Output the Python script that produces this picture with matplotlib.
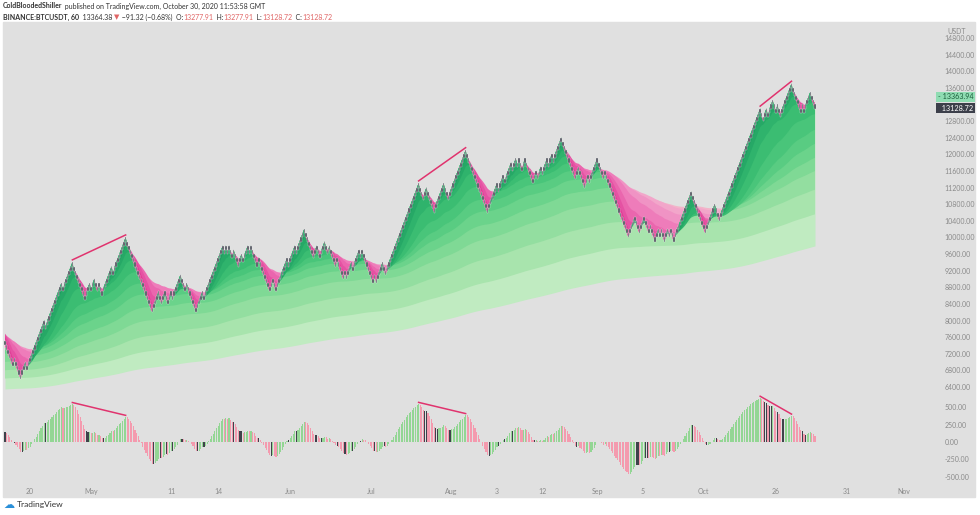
import numpy as np
import matplotlib.pyplot as plt
from matplotlib.patches import Rectangle
from matplotlib.transforms import blended_transform_factory

W, H = 980, 515
box = 100

# renko turning points (brick closes)
pivots = [7400, 6900, 7100, 6600, 7000, 6800, 8000, 7800, 8900, 8700, 9400,
          8500, 8900, 8700, 9000, 8700, 8900, 8600, 9300, 9100, 10000,
          8200, 8700, 8400, 8700, 8400, 8700, 8500, 9100, 8700, 8900, 8200,
          8700, 8500, 9800, 9600, 9800, 9600, 9800, 9500, 9700, 9300,
          9600, 9400, 9800, 9600, 9800, 9300, 9500, 8700, 9000, 8700,
          9500, 9300, 9800, 9600, 10200, 9500, 9800, 9500, 9900,
          9600, 9800, 9300, 9500, 9000, 9200, 9000, 9400, 9200, 9700, 9500, 9700,
          8900, 9100, 8900, 9400, 9100,
          11300, 10900, 11200, 10600, 11300, 10900, 12100,
          10600, 11300, 11100, 11500, 11300, 11800, 11600, 11900, 11700, 11900, 11600, 11900,
          11300, 11600, 11400, 11700, 11500, 11900, 11700, 12000, 11800, 12400,
          11400, 11700, 11200, 11500, 11300, 11900, 11400, 11600, 10000,
          10500, 10100, 10500, 10100, 10300, 9900, 10200, 10000, 10200, 9900,
          10200, 10000, 10200, 9900, 11100, 10100, 10800, 10400,
          13100, 12800, 13100, 12900, 13300, 13000, 13200, 12900, 13700,
          13000, 13200, 13000, 13500, 13100]

ribbon_len = [5, 10, 20, 40, 65, 95, 140, 200, 300, 450, 680]
ribbon_start = [7750, 7750, 7700, 7650, 7550, 7400, 7200, 7000, 6800, 6600, 6350]
macd_len = [10, 26]
macd_start = [7350, 7200]

xtick_idx = [16, 55, 106, 136, 182, 234, 285, 314, 343, 378, 407, 446, 492, 537, 574]
xtick_lab = ['20', 'May', '11', '14', 'Jun', 'Jul', 'Aug', '3', '12', 'Sep', '5', 'Oct', '26', '31', 'Nov']

# 13200 sits under the price tags, so it is not labelled
price_ticks = [p for p in range(6400, 14801, 400) if p != 13200]
osc_ticks = [-500, -250, 0, 250, 500]

# divergences: pairs of pivot numbers (highs)
div_pivots = [(10, 20), (78, 84), (134, 142)]

last_price = 13128.72
mark_price = 13363.94


def renko(pts, size):
    closes, dirs, piv_at = [pts[0]], [-1], [0]
    for p in pts[1:]:
        step = 1 if p > closes[-1] else -1
        c = closes[-1]
        if step != dirs[-1]:
            c += step * size
        while (p - c) * step > 0:
            c += step * size
            closes.append(c)
            dirs.append(step)
        piv_at.append(len(closes) - 1)
    return np.array(closes, float), np.array(dirs), piv_at


def ema(x, n, seed):
    a = 2 / (n + 1)
    out = np.empty(len(x))
    v = seed
    for i, xv in enumerate(x):
        v = v + a * (xv - v)
        out[i] = v
    return out


close, dirs, piv_at = renko(pivots, box)
opens = close - dirs * box
n = len(close)
idx = np.arange(n)
sp = 810 / (n - 1)

bg = '#e0e0e0'
fig = plt.figure(figsize=(W / 100, H / 100), dpi=100)
fig.patches.append(Rectangle((3 / W, 1 - 497 / H), 972 / W, 475 / H,
                             transform=fig.transFigure, color=bg, zorder=-5))

ax = fig.add_axes([3 / W, 1 - 392 / H, 932 / W, 370 / H])
ax2 = fig.add_axes([3 / W, 1 - 484 / H, 932 / W, 92 / H], sharex=ax)
for a in (ax, ax2):
    a.set_facecolor('none')
    for s in a.spines.values():
        s.set_visible(False)
    a.yaxis.tick_right()
    a.tick_params(length=0, labelsize=5.0, labelcolor='#8a8a8a', pad=7)

x0 = -2 / sp
ax.set_xlim(x0, x0 + 932 / sp)
ax.set_ylim(14800 - 354 / 0.04155, 14800 + 16 / 0.04155)

# ribbon
greens = ['#1f9c60', '#26a866', '#2fb36c', '#3bbd72', '#49c57a', '#59cc82', '#6bd38b',
          '#7fd995', '#93dea0', '#a8e4ad', '#c0ebc1']
pinks = ['#e03e96', '#e552a3', '#ea66ae', '#ee7cba', '#f093c4', '#f2a6ca', '#f2b4c9',
         '#f1bcc4', '#f0c2c0', '#efc6bf', '#eec9c0']
emas = [ema(close, L, s0) for L, s0 in zip(ribbon_len, ribbon_start)]
for k in range(len(emas) - 1, -1, -1):
    e = emas[k]
    ax.fill_between(idx, close, e, where=close >= e, color=greens[k], lw=0, interpolate=True, zorder=1)
    ax.fill_between(idx, close, e, where=close < e, color=pinks[k], lw=0, interpolate=True, zorder=1)

# bricks
ax.bar(idx, box, bottom=np.minimum(opens, close), width=0.95, color='#4a4e59',
       edgecolor='#e8e8e8', linewidth=0.25, zorder=3)

# oscillator
osc = ema(close, macd_len[0], macd_start[0]) - ema(close, macd_len[1], macd_start[1])
d_osc = np.diff(osc, prepend=osc[0])
cols = np.where((d_osc > 0) & (dirs > 0), '#93d694',
                np.where((d_osc < 0) & (dirs < 0), '#f49aae', '#3f424b'))
ax2.bar(idx, osc, width=0.7, color=cols, zorder=3)
ax2.set_ylim(-(484 - 442) / 0.07, (442 - 392) / 0.07)

ax.set_yticks(price_ticks)
ax.set_yticklabels(['%.2f' % v for v in price_ticks], family='Lato')
ax2.set_yticks(osc_ticks)
ax2.set_yticklabels(['%.2f' % v for v in osc_ticks], family='Lato')
ax.tick_params(axis='x', bottom=False, labelbottom=False)
ax2.set_xticks(xtick_idx)
ax2.set_xticklabels(xtick_lab, family='Lato')
ax2.tick_params(axis='x', pad=3)

# divergence lines
tl = '#e0336e'
for a_, b_ in div_pivots:
    i, j = piv_at[a_], piv_at[b_]
    ax.plot([i, j], [close[i] + 60, close[j] + 60], color=tl, lw=1.1, zorder=5)
    ax2.plot([i, j], [osc[i] + 20, osc[j] + 20], color=tl, lw=1.1, zorder=5)

# price tags
tr = blended_transform_factory(ax.transAxes, ax.transData)
ax.text(1.003, mark_price + 20, '- %.2f' % mark_price, transform=tr, fontsize=5.2, color='#1b5e3b',
        family='Lato', va='center', ha='left',
        bbox=dict(boxstyle='square,pad=0.22', fc='#8fdcb2', ec='none'), zorder=10)
ax.text(1.003, last_price - 20, '  %.2f' % last_price, transform=tr, fontsize=5.2, color='white',
        family='Lato', va='center', ha='left',
        bbox=dict(boxstyle='square,pad=0.22', fc='#3c3f4a', ec='none'), zorder=10)
fig.text(957 / W, 1 - 31 / H, 'USDT', fontsize=5.0, color='#8a8a8a', ha='center', va='center', family='Lato')

# header lines, pieces laid out one after the other
dark, red = '#333333', '#e06666'
line1 = [('ColdBloodedShiller', dark, 'bold'),
         (' published on TradingView.com, October 30, 2020 11:53:58 GMT', dark, 'normal')]
line2 = [('BINANCE:BTCUSDT, 60', dark, 'bold'), ('  13364.38 ', dark, 'normal'),
         ('\u25bc', red, 'normal'), (' \u221291.32 (\u22120.68%)  O:', dark, 'normal'),
         ('13277.91', red, 'normal'), ('  H:', dark, 'normal'), ('13277.91', red, 'normal'),
         ('  L:', dark, 'normal'), ('13128.72', red, 'normal'), ('  C:', dark, 'normal'),
         ('13128.72', red, 'normal')]
rend = fig.canvas.get_renderer()
for ypx, parts in [(6, line1), (17, line2)]:
    xpx = 3
    for txt, col, wt in parts:
        t = fig.text(xpx / W, 1 - ypx / H, txt, fontsize=5.0, color=col, weight=wt, va='center',
                     family=['Lato', 'DejaVu Sans'])
        xpx += t.get_window_extent(rend).width

fig.text(17 / W, 1 - 505 / H, 'TradingView', fontsize=6, color='#333333', va='center', family='Lato')
fig.text(3 / W, 1 - 505 / H, '\u2601', fontsize=8, color='#2a8fd8', va='center')

fig.savefig('out.png', dpi=100)
